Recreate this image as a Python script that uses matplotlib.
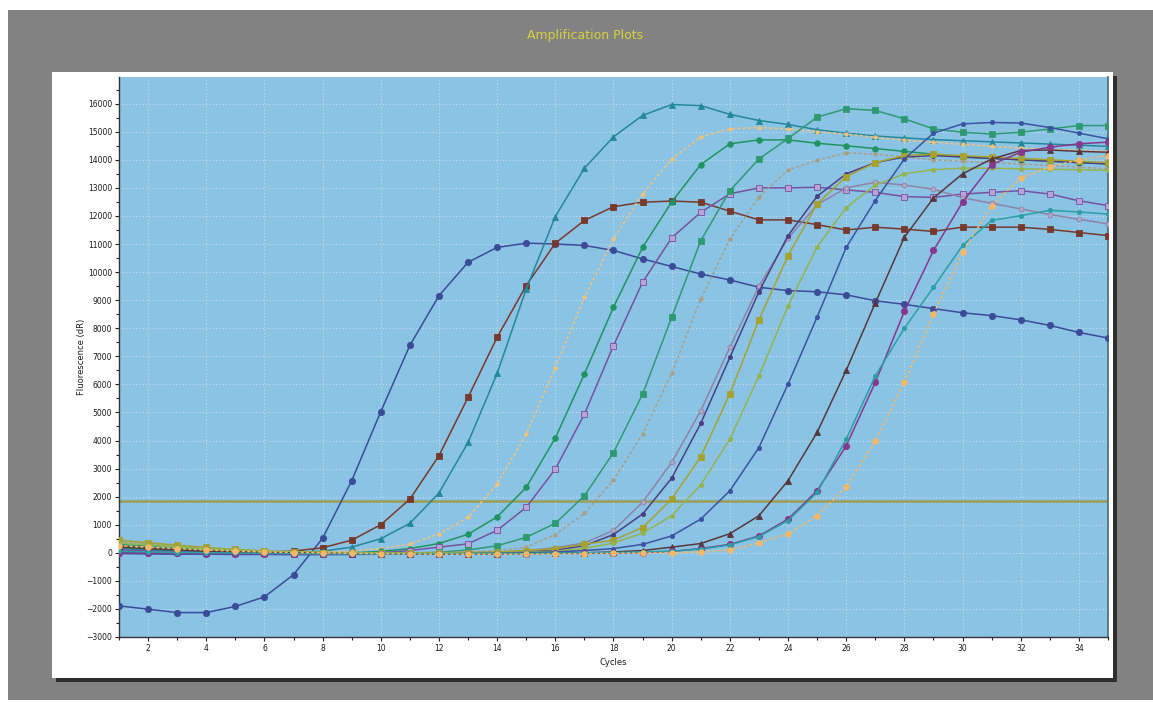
import matplotlib.pyplot as plt
from matplotlib.patches import Rectangle
from matplotlib.ticker import MultipleLocator


cycles = list(range(1, 36))
threshold = 1850

# fluorescence (dR) per cycle
navyEarly = [-1890, -2010, -2130, -2130, -1910, -1570, -780, 520, 2570, 5030,
             7390, 9160, 10350, 10880, 11030, 11000, 10950, 10770, 10470, 10200,
             9930, 9720, 9460, 9340, 9300, 9190, 8980, 8850, 8700, 8550,
             8450, 8300, 8100, 7850, 7650]
brownSquare = [250, 180, 120, 70, 40, 20, 60, 180, 450, 1000,
               1910, 3460, 5540, 7680, 9520, 11030, 11840, 12330, 12490, 12530,
               12490, 12170, 11860, 11860, 11690, 11500, 11600, 11530, 11450, 11600,
               11600, 11600, 11520, 11410, 11300]
tealTriangle = [150, 100, 60, 40, 20, 10, 0, 60, 200, 500,
                1050, 2130, 3930, 6390, 9400, 11980, 13700, 14820, 15580, 15970,
                15930, 15620, 15400, 15260, 15070, 14950, 14850, 14780, 14720, 14680,
                14640, 14600, 14560, 14520, 14480]
peachEarly = [350, 280, 200, 140, 90, 50, 20, 20, 60, 150,
              310, 670, 1260, 2450, 4230, 6600, 9100, 11180, 12790, 14030,
              14810, 15100, 15150, 15100, 15000, 14920, 14800, 14700, 14620, 14550,
              14480, 14420, 14380, 14340, 14300]
greenCircle = [200, 150, 100, 60, 30, 10, 0, -20, 0, 50,
               150, 330, 660, 1280, 2330, 4090, 6370, 8750, 10880, 12500,
               13830, 14570, 14710, 14710, 14590, 14500, 14400, 14300, 14200, 14100,
               14050, 14000, 13950, 13900, 13860]
purpleSquare = [100, 60, 30, 10, 0, -20, -30, -40, -30, 0,
                80, 200, 320, 800, 1620, 2980, 4940, 7380, 9640, 11220,
                12130, 12790, 13000, 13000, 13020, 12930, 12840, 12690, 12660, 12780,
                12840, 12900, 12780, 12540, 12370]
greenSquare = [300, 230, 170, 120, 80, 40, 10, 0, -10, -20,
               -10, 20, 100, 250, 550, 1050, 2030, 3570, 5650, 8390,
               11120, 12900, 14030, 14760, 15520, 15820, 15760, 15460, 15100, 14980,
               14920, 14980, 15100, 15220, 15220]
tanDots = [400, 320, 240, 170, 110, 60, 20, 0, -20, -30,
           -20, 0, 30, 80, 200, 650, 1400, 2590, 4230, 6390,
           9040, 11180, 12670, 13640, 13980, 14250, 14200, 14100, 14000, 13950,
           13900, 13850, 13800, 13740, 13680]
greyPurple = [50, 30, 10, 0, -20, -30, -40, -40, -50, -50,
              -40, -30, -10, 20, 80, 180, 350, 800, 1800, 3220,
              5060, 7320, 9500, 11200, 12400, 13000, 13200, 13100, 12950, 12650,
              12450, 12250, 12050, 11880, 11720]
darkPurple = [0, -20, -30, -40, -50, -50, -60, -60, -60, -50,
              -50, -40, -30, -10, 30, 100, 250, 650, 1380, 2660,
              4610, 6960, 9300, 11300, 12700, 13500, 13900, 14100, 14150, 14100,
              14050, 14000, 13950, 13900, 13850]
oliveSquare = [450, 360, 270, 190, 120, 70, 30, 10, 0, -10,
               -10, 0, 10, 30, 80, 150, 300, 450, 900, 1910,
               3420, 5660, 8300, 10590, 12430, 13400, 13900, 14150, 14200, 14150,
               14100, 14050, 14000, 13950, 13900]
yellowGreen = [350, 280, 210, 150, 100, 60, 30, 10, 0, -10,
               -20, -20, -10, 0, 20, 60, 150, 350, 700, 1320,
               2420, 4050, 6300, 8800, 10900, 12300, 13100, 13500, 13650, 13700,
               13700, 13680, 13660, 13650, 13620]
navyLate = [-30, -40, -50, -50, -60, -60, -60, -60, -50, -50,
            -40, -40, -30, -20, 0, 30, 80, 150, 300, 600,
            1200, 2210, 3750, 6010, 8400, 10880, 12550, 14030, 14950, 15280,
            15330, 15310, 15150, 14950, 14750]
brownTriangle = [200, 150, 100, 60, 30, 10, 0, -20, -30, -40,
                 -40, -40, -30, -30, -20, -10, 0, 30, 80, 200,
                 330, 680, 1320, 2570, 4290, 6500, 8900, 11240, 12640, 13500,
                 14030, 14330, 14350, 14300, 14270]
purpleCircle = [0, -10, -20, -30, -30, -40, -40, -50, -50, -50,
                -40, -40, -40, -30, -30, -20, -20, -10, 10, 50,
                150, 300, 600, 1200, 2210, 3810, 6070, 8600, 10770, 12490,
                13830, 14270, 14450, 14570, 14630]
tealLate = [50, 30, 10, 0, -10, -20, -30, -40, -40, -40,
            -40, -30, -30, -20, -20, -10, 0, 10, 30, 60,
            130, 280, 580, 1150, 2150, 4050, 6300, 8000, 9460, 10950,
            11840, 12010, 12200, 12140, 12070]
peachLate = [250, 200, 150, 100, 60, 30, 10, 0, -20, -30,
             -40, -50, -50, -50, -50, -40, -30, -20, -10, 0,
             30, 100, 350, 680, 1320, 2350, 3990, 6070, 8500, 10710,
             12370, 13360, 13750, 14000, 14150]

# values, colour, marker, marker face, marker size, line style
series = [
    (navyEarly, '#3b4b98', 'o', None, 4.5, '-'),
    (brownSquare, '#77392c', 's', None, 4.5, '-'),
    (tealTriangle, '#23889a', '^', None, 4.5, '-'),
    (peachEarly, '#f3c27a', 'o', None, 2.5, (0, (2, 1.5))),
    (greenCircle, '#1f9460', 'o', None, 4.0, '-'),
    (purpleSquare, '#7552a0', 's', '#b9a3d6', 4.5, '-'),
    (greenSquare, '#2f9a72', 's', None, 4.5, '-'),
    (tanDots, '#a89f84', 'o', None, 2.5, (0, (2, 1.5))),
    (greyPurple, '#8f83a6', 'o', '#b3a8c6', 3.5, '-'),
    (darkPurple, '#4a3f84', 'o', None, 3.0, '-'),
    (oliveSquare, '#a6a232', 's', None, 4.0, '-'),
    (yellowGreen, '#94b450', 'o', None, 3.0, '-'),
    (navyLate, '#3c52a2', 'o', None, 3.0, '-'),
    (brownTriangle, '#56383c', '^', None, 4.0, '-'),
    (purpleCircle, '#85388f', 'o', None, 4.5, '-'),
    (tealLate, '#2b9ea6', 'o', None, 3.0, '-'),
    (peachLate, '#f5b866', 'o', None, 4.0, (0, (2, 1.5))),
]

W, H = 1153, 708
fig = plt.figure(figsize=(W / 100, H / 100), dpi=100, facecolor='white')


def pxRect(x0, y0, x1, y1, color, z):
    fig.patches.append(Rectangle(
        (x0 / W, 1 - y1 / H), (x1 - x0) / W, (y1 - y0) / H,
        transform=fig.transFigure, facecolor=color, edgecolor='none', zorder=z
    ))


pxRect(8, 10, W, 700, '#828282', -3)
pxRect(56, 76, 1117, 682, '#2e2e2e', -2)
pxRect(52, 72, 1113, 678, 'white', -1)

fig.text(585 / W, 1 - 35 / H, 'Amplification Plots', color='#d6d23c',
         fontsize=9, ha='center', va='center')

ax = fig.add_axes([119 / W, 1 - 637 / H, (1108 - 119) / W, (637 - 77) / H])
ax.set_zorder(5)
ax.set_facecolor('#8bc3e5')

ax.axhline(threshold, color='#9d9c55', linewidth=1.8, zorder=2)

for values, color, marker, face, size, style in series:
    ax.plot(cycles, values, linestyle=style, color=color, linewidth=1.1,
            marker=marker, markersize=size,
            markerfacecolor=face if face else color,
            markeredgecolor=color, markeredgewidth=0.6, zorder=3)

ax.set_xlim(1, 35)
ax.set_ylim(-3000, 16950)
ax.xaxis.set_minor_locator(MultipleLocator(1))
ax.yaxis.set_minor_locator(MultipleLocator(500))
ax.set_xticks(range(2, 35, 2))
ax.set_yticks(range(-3000, 16001, 1000))

ax.grid(True, which='major', color='#d6e8f4', linestyle=(0, (1, 2)),
        linewidth=0.8, alpha=0.75, zorder=1)
ax.set_axisbelow(True)

ax.tick_params(which='both', direction='out', color='#222222',
               labelsize=5.5, labelcolor='#1a1a1a', width=0.8)
ax.tick_params(which='major', length=3, pad=2)
ax.tick_params(which='minor', length=2)

for side in ['left', 'bottom']:
    ax.spines[side].set_color('#333333')
    ax.spines[side].set_linewidth(1.0)
ax.spines['right'].set_color('#4a6a80')
ax.spines['right'].set_linewidth(1.2)
ax.spines['top'].set_visible(False)

ax.set_xlabel('Cycles', fontsize=6, color='#1a1a1a')
ax.set_ylabel('Fluorescence (dR)', fontsize=6, color='#1a1a1a')
ax.xaxis.set_label_coords(0.5, -0.038)
ax.yaxis.set_label_coords(-0.033, 0.5)

fig.savefig('out.png', dpi=100, facecolor=fig.get_facecolor())
